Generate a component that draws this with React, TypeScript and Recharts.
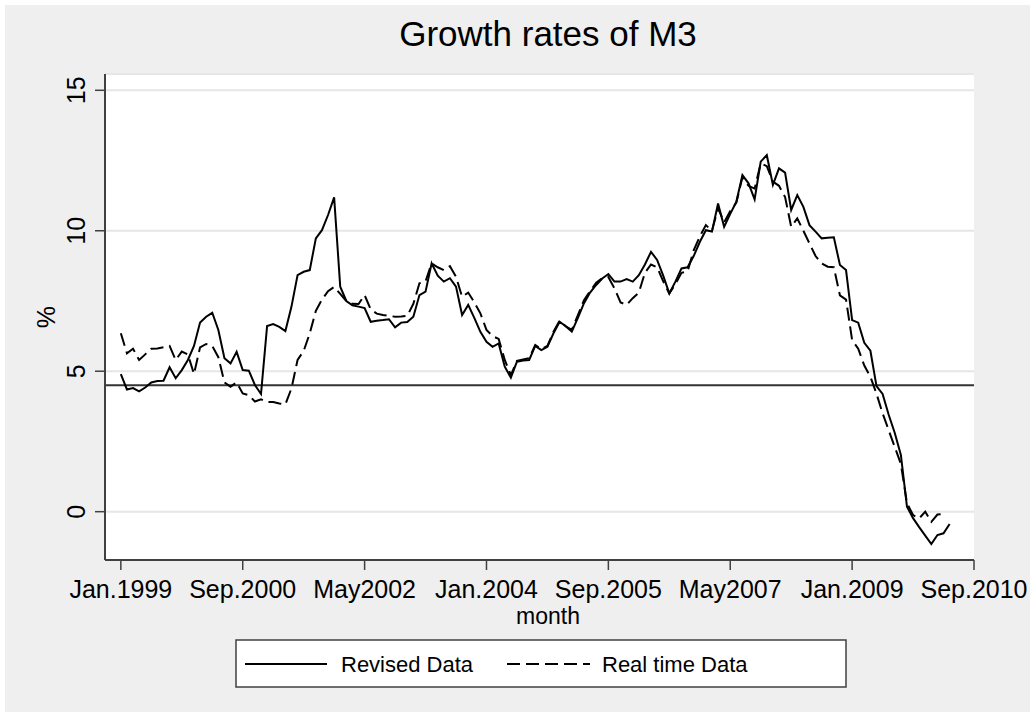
import { LineChart, Line, XAxis, YAxis, CartesianGrid, ReferenceLine } from "recharts";

// monthly growth rates (%), Jan.1999 onwards
const revised = [
	4.9, 4.35, 4.4, 4.28, 4.42, 4.6, 4.65, 4.66, 5.14, 4.75, 5.04, 5.4,
	5.9, 6.73, 6.94, 7.08, 6.47, 5.46, 5.28, 5.69, 5.04, 5.02, 4.51, 4.19,
	6.61, 6.68, 6.58, 6.43, 7.3, 8.42, 8.54, 8.6, 9.73, 10.02, 10.56, 11.19,
	8.01, 7.5, 7.35, 7.3, 7.25, 6.76, 6.8, 6.82, 6.85, 6.56, 6.73, 6.75,
	6.94, 7.71, 7.83, 8.84, 8.4, 8.19, 8.31, 8.01, 7.0, 7.36, 6.9, 6.4,
	6.05, 5.87, 5.99, 5.16, 4.77, 5.34, 5.38, 5.4, 5.9, 5.75, 5.87, 6.35,
	6.76, 6.6, 6.41, 6.9, 7.42, 7.8, 8.07, 8.3, 8.46, 8.19, 8.19, 8.28,
	8.19, 8.42, 8.8, 9.25, 8.96, 8.4, 7.77, 8.19, 8.66, 8.7, 9.1, 9.6,
	10.02, 9.97, 10.97, 10.14, 10.6, 11.03, 11.98, 11.69, 11.12, 12.46, 12.69, 11.63,
	12.22, 12.07, 10.74, 11.27, 10.85, 10.2, 9.97, 9.73, 9.75, 9.77, 8.78, 8.6,
	6.82, 6.73, 6.01, 5.73, 4.47, 4.19, 3.45, 2.8, 2.02, 0.18, -0.23, -0.55,
	-0.85, -1.15, -0.83, -0.77, -0.44,
];

const realTime = [
	6.35, 5.64, 5.8, 5.4, 5.6, 5.8, 5.81, 5.85, 5.9, 5.4, 5.7, 5.6,
	4.9, 5.85, 5.97, 5.9, 5.5, 4.6, 4.45, 4.6, 4.21, 4.15, 3.92, 4.0,
	3.9, 3.9, 3.85, 3.82, 4.39, 5.4, 5.72, 6.35, 7.15, 7.55, 7.85, 8.0,
	7.75, 7.5, 7.4, 7.39, 7.71, 7.2, 7.05, 7.0, 6.97, 6.94, 6.95, 6.97,
	7.4, 8.13, 8.2, 8.84, 8.7, 8.6, 8.74, 8.36, 7.65, 7.8, 7.45, 7.06,
	6.47, 6.25, 6.15, 5.4, 4.86, 5.37, 5.42, 5.46, 5.93, 5.78, 5.9, 6.41,
	6.8, 6.6, 6.47, 7.0, 7.53, 7.85, 8.15, 8.31, 8.35, 7.95, 7.45, 7.36,
	7.6, 7.8, 8.5, 8.8, 8.7, 8.2, 7.77, 8.1, 8.5, 8.55, 9.3, 9.8,
	10.2, 10.0, 10.8, 10.3, 10.7, 11.0, 11.9, 11.6, 11.5, 12.4, 12.3, 11.75,
	11.6, 11.2, 10.14, 10.44, 10.0, 9.55, 9.1, 8.84, 8.72, 8.7, 7.7, 7.55,
	6.11, 5.8, 5.2, 4.8, 4.2, 3.5, 2.9, 2.3, 1.7, 0.3, -0.12, -0.24,
	0.0, -0.36, -0.1, -0.08,
];

const xTicks = [0, 20, 40, 60, 80, 100, 120, 140];
const xTickLabels = ["Jan.1999", "Sep.2000", "May2002", "Jan.2004", "Sep.2005", "May2007", "Jan.2009", "Sep.2010"];
const yTicks = [0, 5, 10, 15];
const targetRate = 4.5;

const data = revised.map((v, i) => ({ m: i, revised: v, realTime: realTime[i] }));

const FONT = "'Liberation Sans', Arial, sans-serif";
const AXIS = "#404040";
const DASH = "13 6";

function XTick({ x, y, payload }: any) {
	const idx = xTicks.indexOf(payload.value);
	return (
		<text x={x} y={y + 26} textAnchor="middle" fontSize={25} fontFamily={FONT} fill="#000">
			{xTickLabels[idx]}
		</text>
	);
}

function YTick({ x, y, payload }: any) {
	const tx = x - 8;
	return (
		<text x={tx} y={y} transform={`rotate(-90 ${tx} ${y})`} textAnchor="middle" fontSize={25} fontFamily={FONT} fill="#000">
			{payload.value}
		</text>
	);
}

export default function App() {
	return (
		<div style={{ position: "absolute", left: 0, top: 0, width: 1035, height: 717, background: "#fff" }}>
			<div style={{ position: "absolute", left: 5, top: 5, width: 1025, height: 707, background: "#efefef" }} />
			<div style={{ position: "absolute", left: 0, top: 0 }}>
				<LineChart width={1035} height={717} data={data} margin={{ top: 74, right: 61, bottom: 0, left: 0 }}>
					<CartesianGrid vertical={false} fill="#ffffff" stroke="#e6e6e6" strokeWidth={2} />
					<XAxis
						type="number"
						dataKey="m"
						domain={[-2.6, 140]}
						ticks={xTicks}
						allowDataOverflow
						height={157}
						tickSize={10}
						tick={<XTick />}
						axisLine={{ stroke: AXIS, strokeWidth: 2 }}
						tickLine={{ stroke: AXIS, strokeWidth: 1.5 }}
					/>
					<YAxis
						type="number"
						domain={[-1.72, 15.58]}
						ticks={yTicks}
						allowDataOverflow
						width={105}
						tickSize={10}
						tick={<YTick />}
						axisLine={{ stroke: AXIS, strokeWidth: 2 }}
						tickLine={{ stroke: AXIS, strokeWidth: 1.5 }}
					/>
					<ReferenceLine y={targetRate} stroke="#333333" strokeWidth={2} />
					<Line type="linear" dataKey="revised" stroke="#000" strokeWidth={2} dot={false} isAnimationActive={false} />
					<Line type="linear" dataKey="realTime" stroke="#000" strokeWidth={2} strokeDasharray={DASH} dot={false} isAnimationActive={false} />
				</LineChart>
			</div>
			<svg width={1035} height={717} style={{ position: "absolute", left: 0, top: 0, pointerEvents: "none" }}>
				<text x={548} y={46} textAnchor="middle" fontSize={35} fontFamily={FONT} fill="#000">
					Growth rates of M3
				</text>
				<text x={548} y={624} textAnchor="middle" fontSize={23} fontFamily={FONT} fill="#000">
					month
				</text>
				<text x={55} y={317} transform="rotate(-90 55 317)" textAnchor="middle" fontSize={25} fontFamily={FONT} fill="#000">
					%
				</text>
				<rect x={236} y={640} width={610} height={47} fill="#fff" stroke={AXIS} strokeWidth={1.5} />
				<line x1={245} y1={664} x2={327} y2={664} stroke="#000" strokeWidth={2} />
				<text x={341} y={672} fontSize={22} fontFamily={FONT} fill="#000">
					Revised Data
				</text>
				<line x1={507} y1={664} x2={590} y2={664} stroke="#000" strokeWidth={2} strokeDasharray={DASH} />
				<text x={602} y={672} fontSize={22} fontFamily={FONT} fill="#000">
					Real time Data
				</text>
			</svg>
		</div>
	);
}
